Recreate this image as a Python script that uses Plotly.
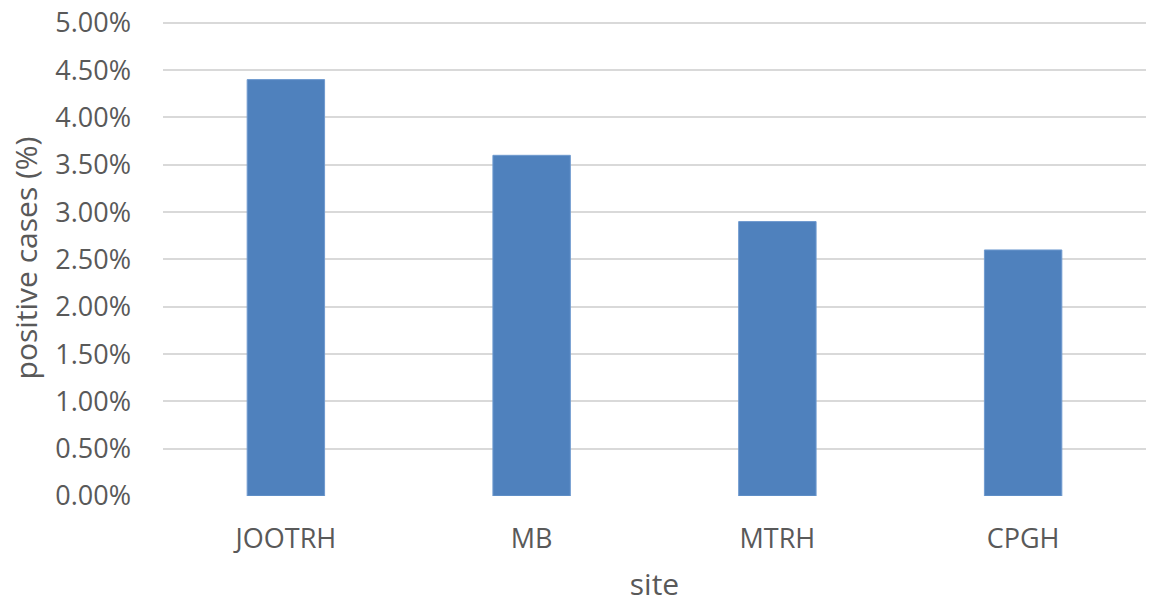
import plotly.graph_objects as go

sites = ["JOOTRH", "MB", "MTRH", "CPGH"]
positive_pct = [4.40, 3.60, 2.90, 2.60]
y_ticks = [0.0, 0.5, 1.0, 1.5, 2.0, 2.5, 3.0, 3.5, 4.0, 4.5, 5.0]
y_tick_labels = [f"{v:.2f}%" for v in y_ticks]

font_family = "Open Sans"
text_color = "#595959"

fig = go.Figure(go.Bar(
    x=sites, y=positive_pct,
    marker=dict(color="#4F81BD", line=dict(color="#6F9ACF", width=1)),
    width=0.315,
))

fig.update_layout(
    width=1149, height=604,
    margin=dict(l=163, r=3, t=20, b=108),
    paper_bgcolor="white", plot_bgcolor="white",
    font=dict(family=font_family, size=28, color=text_color),
    showlegend=False,
    xaxis=dict(
        title=dict(text="site", font=dict(size=30, color=text_color), standoff=24),
        showgrid=False, showline=False, zeroline=False,
        ticks="", ticklabelstandoff=24, automargin=False,
        tickfont=dict(size=27, color=text_color),
    ),
    yaxis=dict(
        title=dict(text="positive cases (%)", font=dict(size=30, color=text_color), standoff=8),
        range=[0, 5.03], tickvals=y_ticks, ticktext=y_tick_labels,
        showgrid=True, gridcolor="#D9D9D9", gridwidth=2,
        zeroline=False, showline=False, ticks="", automargin=False,
        ticklabelstandoff=31,
        tickfont=dict(size=27, color=text_color),
    ),
)

fig.write_html(
    "out.html",
    config={"displayModeBar": False},
    post_script="document.body.style.margin='0';document.body.style.overflow='hidden';",
)
